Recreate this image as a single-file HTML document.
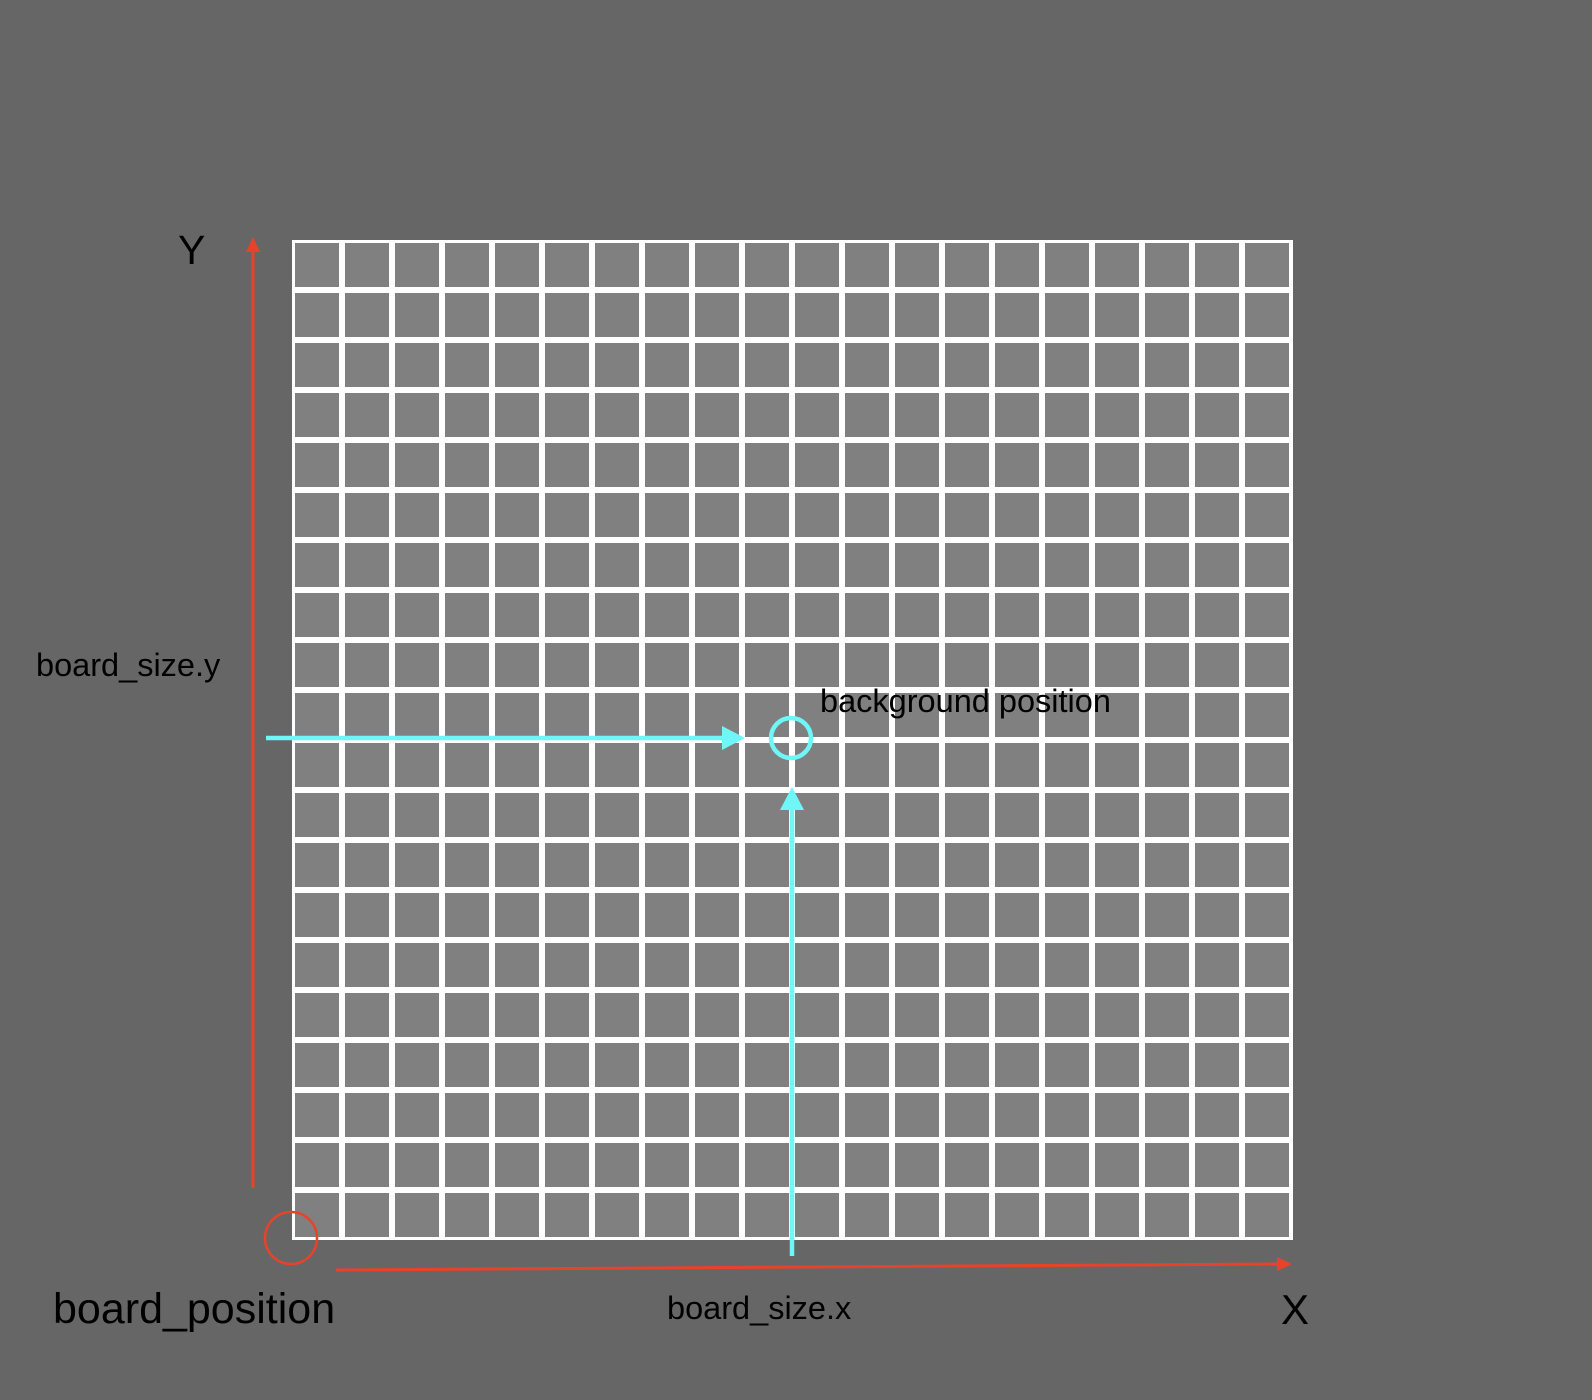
<!DOCTYPE html>
<html><head><meta charset="utf-8"><style>
html,body{margin:0;padding:0;background:#666666;}
svg{display:block;}
text{font-family:"Liberation Sans",Arial,sans-serif;fill:#000;}
</style></head><body>
<svg width="1592" height="1400" viewBox="0 0 1592 1400" xmlns="http://www.w3.org/2000/svg">
<rect width="1592" height="1400" fill="#666666"/>
<rect x="292" y="240" width="1001" height="1000" fill="#ffffff"/>
<g id="cells"></g>
<!-- red axes -->
<line x1="253" y1="1188" x2="253" y2="252" stroke="#e8432a" stroke-width="3"/>
<polygon points="253,237 246,252 260,252" fill="#e8432a"/>
<line x1="336" y1="1270" x2="1278" y2="1264" stroke="#e8432a" stroke-width="3"/>
<polygon points="1292,1264 1277,1257 1277,1271" fill="#e8432a"/>
<circle cx="291" cy="1238" r="26" fill="none" stroke="#e8432a" stroke-width="2.5"/>
<!-- cyan -->
<line x1="266" y1="738" x2="728" y2="738" stroke="#6ff7f7" stroke-width="4.5"/>
<polygon points="745,738 722,726 722,750" fill="#6ff7f7"/>
<circle cx="791" cy="738" r="20" fill="none" stroke="#6ff7f7" stroke-width="4.5"/>
<line x1="792" y1="1256" x2="792" y2="805" stroke="#6ff7f7" stroke-width="4.5"/>
<polygon points="792,787 780,810 804,810" fill="#6ff7f7"/>
<!-- labels -->
<text x="178" y="264" font-size="41">Y</text>
<text x="1281" y="1324" font-size="42">X</text>
<text x="53" y="1323" font-size="43">board_position</text>
<text x="667" y="1319" font-size="32.5">board_size.x</text>
<text x="36" y="676" font-size="32.5">board_size.y</text>
<text x="820" y="712" font-size="32.5">background position</text>
</svg>
<script>
const cols = 20, rows = 20;
const g = document.getElementById('cells');
for (let r = 0; r < rows; r++) {
  for (let c = 0; c < cols; c++) {
    const el = document.createElementNS('http://www.w3.org/2000/svg', 'rect');
    el.setAttribute('x', 295 + c * 50);
    el.setAttribute('y', 243 + r * 50);
    el.setAttribute('width', 44);
    el.setAttribute('height', 44);
    el.setAttribute('fill', '#808080');
    
    
    g.appendChild(el);
  }
}
</script>
</body></html>
